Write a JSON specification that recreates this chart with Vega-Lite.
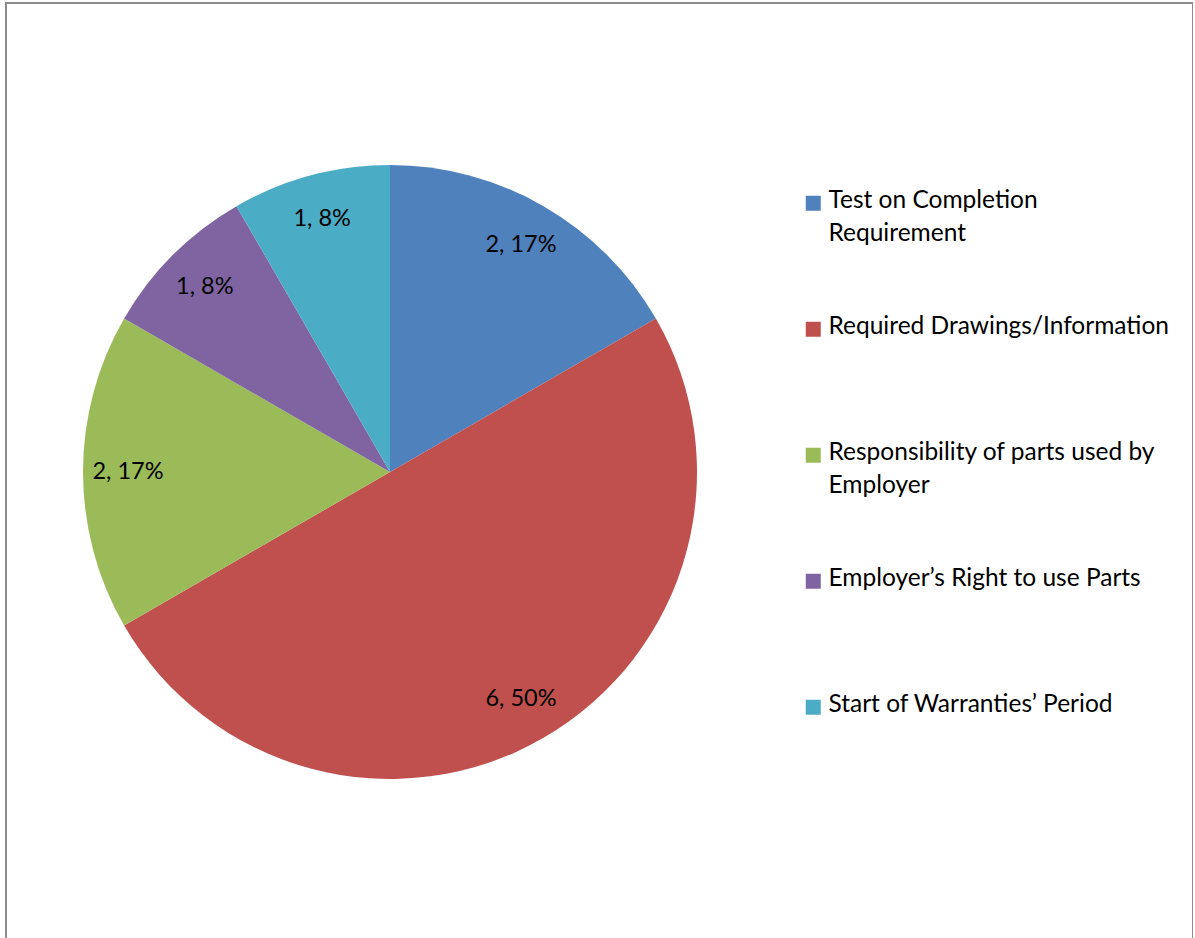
{
  "$schema": "https://vega.github.io/schema/vega-lite/v6.json",
  "autosize": "none",
  "width": 1187,
  "height": 960,
  "padding": {"left": 6, "top": 3, "right": 0, "bottom": 0},
  "background": "white",
  "view": {"stroke": "#8c8c8c", "strokeWidth": 2, "fill": "white"},
  "config": {"view": {"stroke": "#8c8c8c", "strokeWidth": 2}, "font": "Lato"},
  "data": {"values": [
    {"idx": 1, "category": "Test on Completion Requirement", "count": 2, "label": "2, 17%"},
    {"idx": 2, "category": "Required Drawings/Information", "count": 6, "label": "6, 50%"},
    {"idx": 3, "category": "Responsibility of parts used by Employer", "count": 2, "label": "2, 17%"},
    {"idx": 4, "category": "Employer’s Right to use Parts", "count": 1, "label": "1, 8%"},
    {"idx": 5, "category": "Start of Warranties’ Period", "count": 1, "label": "1, 8%"}
  ]},
  "encoding": {
    "theta": {"field": "count", "type": "quantitative", "stack": true},
    "order": {"field": "idx", "type": "quantitative"},
    "color": {
      "field": "category", "type": "nominal", "sort": null,
      "scale": {
        "domain": ["Test on Completion Requirement", "Required Drawings/Information", "Responsibility of parts used by Employer", "Employer’s Right to use Parts", "Start of Warranties’ Period"],
        "range": ["#4F81BD", "#C0504D", "#9BBB59", "#8064A2", "#4BACC6"]
      },
      "legend": {
        "orient": "none", "legendX": 795, "legendY": 188,
        "title": null, "symbolType": "square", "symbolSize": 225, "symbolStrokeWidth": 0,
        "labelFont": "Lato", "labelFontSize": 24.5, "labelColor": "black", "labelLimit": 500, "labelOffset": 3,
        "labelBaseline": "top", "rowPadding": 68,
        "labelExpr": "datum.label === 'Test on Completion Requirement' ? ['Test on Completion', 'Requirement'] : datum.label === 'Responsibility of parts used by Employer' ? ['Responsibility of parts used by', 'Employer'] : [datum.label, ' ']",
        "encode": {"labels": {"update": {"lineHeight": {"value": 33}, "dy": {"value": -14}}}}
      }
    }
  },
  "layer": [
    {"mark": {"type": "arc", "outerRadius": 307, "x": 384, "y": 469}},
    {"mark": {"type": "text", "radius": 262, "x": 384, "y": 469, "fontSize": 23.5, "font": "Lato", "color": "black"},
     "encoding": {"text": {"field": "label"}, "color": {"value": "black"}}}
  ]
}
